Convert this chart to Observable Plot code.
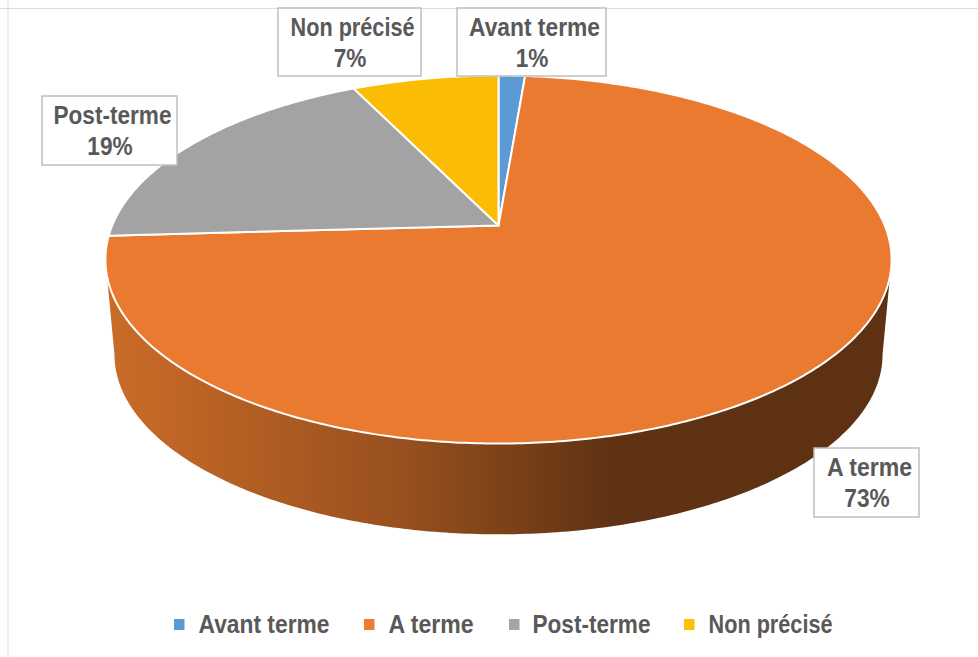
<!DOCTYPE html>
<html><head><meta charset="utf-8">
<style>html,body{margin:0;padding:0;background:#fff}svg{display:block}</style>
<script src="https://cdn.jsdelivr.net/npm/d3@7"></script>
<script src="https://cdn.jsdelivr.net/npm/@observablehq/plot@0.6"></script>
</head><body>
<script>
const categories = ["Avant terme", "A terme", "Post-terme", "Non précisé"];
const shares = [1.3, 72.8, 18.7, 7.2];
const shareLabels = ["1%", "73%", "19%", "7%"];
const sliceColors = ["#5B9BD5", "#E97A2F", "#A3A3A3", "#FBBC04"];
const legendColors = ["#5B9BD5", "#ED7D31", "#A5A5A5", "#FFC000"];

// Layout only: label boxes [x1, x2, y1, y2], legend positions, condensed text widths
const boxes = [[457, 606, 8, 76], [814, 919, 448, 517], [42, 177, 96, 165], [278, 421, 8, 76]];
const legendSwatchX = [174, 364, 509, 684];
const legendTextX = [198, 388, 532, 708];
const nameWidths = [131, 85, 118, 124];

// Perspective disc: unit circle -> screen
const apex = {x: 498, y: 225}, k = 0.185, A = 386.3, B = 177.7;
const top3d = (t) => {
  const X = Math.sin(t), Y = Math.cos(t), w = 1 + k * Y;
  return {x: apex.x + A * X / w, y: apex.y - B * Y / w};
};
const s = 0.977, cy = 259, dy = 95;
const bottom3d = (t) => {
  const p = top3d(t);
  return {x: apex.x + (p.x - apex.x) * s, y: cy + dy + (p.y - cy) * s};
};

const arcs = d3.pie().sort(null)(shares);
const slicePts = arcs.flatMap((a, i) => {
  const n = Math.max(4, Math.ceil((a.endAngle - a.startAngle) * 90));
  const pts = [{...apex}];
  for (let j = 0; j <= n; j++) pts.push(top3d(a.startAngle + (a.endAngle - a.startAngle) * j / n));
  pts.push({...apex});
  return pts.map(p => ({...p, z: categories[i], fill: sliceColors[i]}));
});

// Side wall: one outline, from the right tangent round the front to the left tangent
const tStart = Math.acos(-k), tEnd = 2 * Math.PI - tStart, steps = 240;
const frontAngles = d3.range(steps + 1).map(j => tStart + (tEnd - tStart) * j / steps);
const wall = [...frontAngles.map(top3d), ...frontAngles.slice().reverse().map(bottom3d)];
wall.push(wall[0]);

const wallGradient = () => {
  const defs = d3.create("svg:defs");
  const g = defs.append("linearGradient").attr("id", "wallShade")
    .attr("gradientUnits", "userSpaceOnUse")
    .attr("x1", 105).attr("x2", 900).attr("y1", 0).attr("y2", 0);
  [[0, "#CB6C28"], [0.371, "#98501E"], [0.635, "#603214"], [1, "#5E3113"]]
    .forEach(([o, c]) => g.append("stop").attr("offset", o).attr("stop-color", c));
  return defs.node();
};

const boxData = boxes.map((b, i) => ({x1: b[0], x2: b[1], y1: b[2], y2: b[3],
  cx: (b[0] + b[1]) / 2, label: categories[i], pct: shareLabels[i]}));
const legend = categories.map((c, i) => ({c, col: legendColors[i], sx: legendSwatchX[i], tx: legendTextX[i]}));

const font = {fontFamily: "'Liberation Sans',sans-serif", fontWeight: 700, fontSize: 26, fill: "#595959"};

const chart = Plot.plot({
  width: 978, height: 657, margin: 0,
  x: {domain: [0, 978], range: [0, 978], axis: null},
  y: {domain: [0, 657], range: [0, 657], axis: null},
  color: {type: "identity"},
  marks: [
    wallGradient,
    Plot.ruleX([7.5], {stroke: "#DDDDDD", strokeWidth: 1}),
    Plot.ruleY([8], {stroke: "#DDDDDD", strokeWidth: 1}),
    Plot.line(wall, {x: "x", y: "y", fill: "url(#wallShade)", stroke: "none"}),
    Plot.line(slicePts, {x: "x", y: "y", z: "z", fill: "fill", stroke: "#FFFFFF", strokeWidth: 2, strokeLinejoin: "round"}),
    Plot.rect(boxData, {x1: "x1", x2: "x2", y1: "y1", y2: "y2", fill: "#FFFFFF", stroke: "#BFBFBF", strokeWidth: 1.5}),
    Plot.text(boxData, {x: d => d.cx + 2.5, y: d => d.y1 + 19, text: "label", ...font}),
    Plot.text(boxData, {x: "cx", y: d => d.y1 + 50, text: "pct", ...font}),
    Plot.rect(legend, {x1: "sx", x2: d => d.sx + 10.5, y1: () => 619, y2: () => 630, fill: "col"}),
    Plot.text(legend, {x: "tx", y: () => 624, text: "c", textAnchor: "start", ...font})
  ]
});
document.body.appendChild(chart);

// The reference's lettering is condensed: squeeze the real text horizontally
chart.querySelectorAll("text").forEach(t => {
  const i = categories.indexOf(t.textContent);
  const w = i >= 0 ? nameWidths[i] : t.getComputedTextLength() * 0.87;
  t.setAttribute("textLength", w);
  t.setAttribute("lengthAdjust", "spacingAndGlyphs");
});
</script>
</body></html>
